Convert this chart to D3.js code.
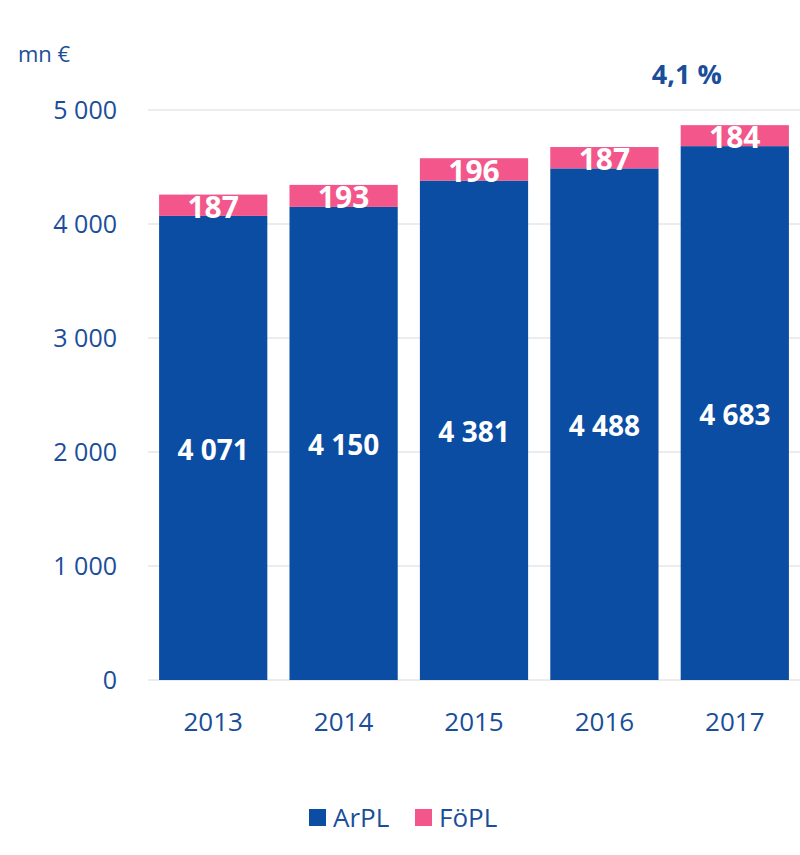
<!DOCTYPE html>
<html><head><meta charset="utf-8">
<script src="https://cdn.jsdelivr.net/npm/d3@7"></script>
<style>body{margin:0;background:#fff;} text{font-family:"Open Sans","Noto Sans",sans-serif;}</style>
</head><body><svg id="c" width="800" height="855"></svg>
<script>
const years = ["2013","2014","2015","2016","2017"];
const arpl = [4071, 4150, 4381, 4488, 4683];
const fopl = [187, 193, 196, 187, 184];
const yTicks = [0, 1000, 2000, 3000, 4000, 5000];
const seriesNames = ["ArPL", "FöPL"];
const unitLabel = "mn €";
const growthLabel = "4,1 %";

const blue = "#0B4DA2", pink = "#F2568A", txt = "#1A4E9A";
const svg = d3.select("#c");
const x = d3.scaleBand().domain(years).range([148, 800]).paddingInner(0.17).paddingOuter(0.085);
const y = d3.scaleLinear().domain([0, 5000]).range([680, 110]);
const fmt = v => d3.format(",")(v).replace(/,/g, " ");

svg.append("g").selectAll("line").data(yTicks).join("line")
  .attr("x1", 148).attr("x2", 800).attr("y1", d => y(d)).attr("y2", d => y(d))
  .attr("stroke", "#e6e6e6").attr("stroke-width", 1.5);
svg.append("g").selectAll("text").data(yTicks).join("text")
  .attr("x", 117).attr("y", d => y(d)).attr("dy", "0.35em").attr("text-anchor", "end")
  .attr("font-size", 25).attr("fill", txt).text(d => fmt(d));
svg.append("text").attr("x", 18).attr("y", 62).attr("font-size", 22).attr("fill", txt).text(unitLabel);

const data = years.map((yr, i) => ({yr, a: arpl[i], f: fopl[i]}));
svg.append("g").selectAll("rect").data(data).join("rect")
  .attr("x", d => x(d.yr)).attr("width", x.bandwidth())
  .attr("y", d => y(d.a)).attr("height", d => y(0) - y(d.a)).attr("fill", blue);
svg.append("g").selectAll("rect").data(data).join("rect")
  .attr("x", d => x(d.yr)).attr("width", x.bandwidth())
  .attr("y", d => y(d.a + d.f)).attr("height", d => y(d.a) - y(d.a + d.f)).attr("fill", pink);
svg.append("g").selectAll("text").data(data).join("text")
  .attr("x", d => x(d.yr) + x.bandwidth()/2).attr("y", d => y(d.a/2) + 2).attr("dy", "0.35em")
  .attr("text-anchor", "middle").attr("font-size", 28).attr("font-weight", "bold").attr("fill", "#fff")
  .text(d => fmt(d.a));
svg.append("g").selectAll("text").data(data).join("text")
  .attr("x", d => x(d.yr) + x.bandwidth()/2).attr("y", d => y(d.a + d.f/2) + 2).attr("dy", "0.35em")
  .attr("text-anchor", "middle").attr("font-size", 30).attr("font-weight", "bold").attr("fill", "#fff")
  .text(d => d.f);
svg.append("g").selectAll("text").data(years).join("text")
  .attr("x", d => x(d) + x.bandwidth()/2).attr("y", 722).attr("dy", "0.35em")
  .attr("text-anchor", "middle").attr("font-size", 26).attr("fill", txt).text(d => d);
svg.append("text").attr("x", x("2017") + x.bandwidth()/2 - 48).attr("y", 75).attr("dy", "0.35em")
  .attr("text-anchor", "middle").attr("font-size", 27).attr("font-weight", "bold").attr("fill", txt).text(growthLabel);

const leg = svg.append("g");
const lx = [309, 415];
seriesNames.forEach((n, i) => {
  leg.append("rect").attr("x", lx[i]).attr("y", 809).attr("width", 17).attr("height", 17).attr("fill", i ? pink : blue);
  leg.append("text").attr("x", lx[i] + 24).attr("y", 818).attr("dy", "0.35em").attr("font-size", 26).attr("fill", txt).text(n);
});
</script></body></html>
